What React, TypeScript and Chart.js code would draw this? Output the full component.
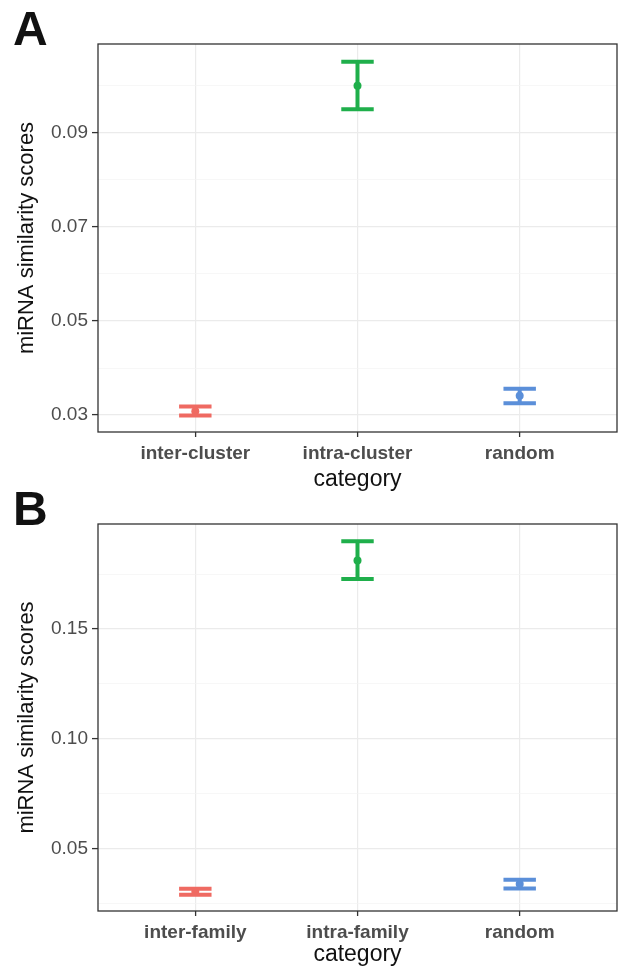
import React, { useEffect, useRef } from 'react';
import { Chart, registerables } from 'chart.js';

Chart.register(...registerables);

// ---- Panel A data ----
const categoriesA = ['inter-cluster', 'intra-cluster', 'random'];
const meanA = [0.0308, 0.1, 0.0341];
const lowerA = [0.0299, 0.095, 0.0325];
const upperA = [0.0318, 0.1051, 0.0356];
const majorTicksA = [0.03, 0.05, 0.07, 0.09];
const minorTicksA = [0.04, 0.06, 0.08, 0.1];
const yMinA = 0.0264;
const yMaxA = 0.1089;

// ---- Panel B data ----
const categoriesB = ['inter-family', 'intra-family', 'random'];
const meanB = [0.0302, 0.1812, 0.0337];
const lowerB = [0.0288, 0.1728, 0.0317];
const upperB = [0.0316, 0.19, 0.0357];
const majorTicksB = [0.05, 0.1, 0.15];
const minorTicksB = [0.025, 0.075, 0.125, 0.175];
const yMinB = 0.0214;
const yMaxB = 0.1979;

const groupColors = ['#EF6A62', '#1FAF4B', '#5B8FD9'];
const yTitle = 'miRNA similarity scores';
const xTitle = 'category';

const FONT = '"Liberation Sans", Arial, Helvetica, sans-serif';

type PanelProps = {
  tag: string;
  categories: string[];
  mean: number[];
  lower: number[];
  upper: number[];
  majors: number[];
  minors: number[];
  yMin: number;
  yMax: number;
  height: number;
  padTop: number;
  xAxisHeight: number;
  top: number;
  tagBaseline: number;
};

const isIn = (arr: number[], v: number) => arr.some((a) => Math.abs(a - v) < 1e-9);

function Panel(p: PanelProps) {
  const ref = useRef<HTMLCanvasElement | null>(null);
  useEffect(() => {
    if (!ref.current) return;
    const hw = 0.1;
    const errDatasets = p.categories.map((c, i) => ({
      label: c,
      data: [
        { x: i - hw, y: p.upper[i] },
        { x: i + hw, y: p.upper[i] },
        { x: i, y: p.upper[i] },
        { x: i, y: p.lower[i] },
        { x: i - hw, y: p.lower[i] },
        { x: i + hw, y: p.lower[i] },
      ],
      showLine: true,
      borderColor: groupColors[i],
      backgroundColor: groupColors[i],
      borderWidth: 4,
      pointRadius: 0,
      tension: 0,
      fill: false,
    }));
    const meanDataset = {
      label: 'mean',
      data: p.categories.map((_, i) => ({ x: i, y: p.mean[i] })),
      showLine: false,
      pointRadius: 4,
      pointBackgroundColor: groupColors,
      pointBorderWidth: 0,
      borderWidth: 0,
    };
    const allTicks = [...p.majors, ...p.minors].sort((a, b) => a - b);

    const panelPlugin = {
      id: 'panelDeco',
      afterDraw(chart: any) {
        const { ctx, chartArea } = chart;
        ctx.save();
        ctx.strokeStyle = '#333333';
        ctx.lineWidth = 1.3;
        ctx.strokeRect(chartArea.left, chartArea.top, chartArea.right - chartArea.left, chartArea.bottom - chartArea.top);
        ctx.fillStyle = '#111111';
        ctx.font = `bold 48px ${FONT}`;
        ctx.textBaseline = 'alphabetic';
        ctx.textAlign = 'left';
        ctx.fillText(p.tag, 13, p.tagBaseline);
        ctx.restore();
      },
    };

    const chart = new Chart(ref.current, {
      type: 'scatter',
      data: { datasets: [...errDatasets, meanDataset] as any },
      options: {
        responsive: false,
        animation: false,
        events: [],
        layout: { padding: { top: p.padTop, left: 0, right: 1, bottom: 0 } },
        plugins: { legend: { display: false }, tooltip: { enabled: false } },
        scales: {
          x: {
            type: 'linear',
            min: -0.6,
            max: 2.6,
            afterBuildTicks: (s: any) => {
              s.ticks = p.categories.map((_, i) => ({ value: i }));
            },
            afterFit: (s: any) => {
              s.height = p.xAxisHeight;
            },
            ticks: {
              autoSkip: false,
              maxRotation: 0,
              minRotation: 0,
              padding: 5,
              color: '#4D4D4D',
              font: { family: FONT, size: 19, weight: 'bold' },
              callback: (v: any) => p.categories[Math.round(Number(v))] ?? '',
            },
            grid: {
              color: '#EBEBEB',
              lineWidth: 1.2,
              tickLength: 5,
              tickColor: '#333333',
              tickWidth: 1.3,
            },
            border: { display: false },
            title: {
              display: true,
              text: xTitle,
              color: '#111111',
              font: { family: FONT, size: 23 },
              padding: { top: 0, bottom: 7 },
            },
          },
          y: {
            type: 'linear',
            min: p.yMin,
            max: p.yMax,
            afterBuildTicks: (s: any) => {
              s.ticks = allTicks.map((v) => ({ value: v }));
            },
            afterFit: (s: any) => {
              s.width = 98;
            },
            ticks: {
              autoSkip: false,
              padding: 4,
              color: '#4D4D4D',
              font: { family: FONT, size: 19 },
              callback: (v: any) => (isIn(p.majors, Number(v)) ? Number(v).toFixed(2) : ''),
            },
            grid: {
              color: (ctx: any) => (ctx.tick && isIn(p.majors, ctx.tick.value) ? '#EBEBEB' : '#F3F3F3'),
              lineWidth: (ctx: any) => (ctx.tick && isIn(p.majors, ctx.tick.value) ? 1.2 : 0.7),
              tickColor: (ctx: any) => (ctx.tick && isIn(p.majors, ctx.tick.value) ? '#333333' : 'rgba(0,0,0,0)'),
              tickLength: 6,
              tickWidth: 1.3,
            },
            border: { display: false },
            title: {
              display: true,
              text: yTitle,
              color: '#111111',
              font: { family: FONT, size: 22 },
              padding: { top: 14, bottom: 0 },
            },
          },
        },
      } as any,
      plugins: [panelPlugin],
    });
    return () => chart.destroy();
  }, []);

  return (
    <canvas
      ref={ref}
      width={621}
      height={p.height}
      style={{ position: 'absolute', left: 0, top: p.top, width: 621, height: p.height }}
    />
  );
}

export default function App() {
  return (
    <div style={{ position: 'absolute', left: 0, top: 0, width: 621, height: 975, background: '#ffffff', overflow: 'hidden' }}>
      <Panel
        tag="A"
        categories={categoriesA}
        mean={meanA}
        lower={lowerA}
        upper={upperA}
        majors={majorTicksA}
        minors={minorTicksA}
        yMin={yMinA}
        yMax={yMaxA}
        height={500}
        padTop={44}
        xAxisHeight={68}
        top={0}
        tagBaseline={45}
      />
      <Panel
        tag="B"
        categories={categoriesB}
        mean={meanB}
        lower={lowerB}
        upper={upperB}
        majors={majorTicksB}
        minors={minorTicksB}
        yMin={yMinB}
        yMax={yMaxB}
        height={487}
        padTop={36}
        xAxisHeight={64}
        top={488}
        tagBaseline={37}
      />
    </div>
  );
}
